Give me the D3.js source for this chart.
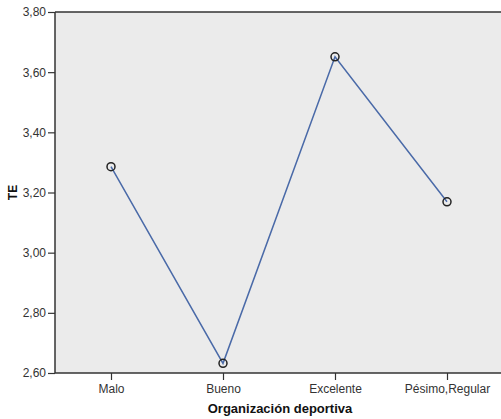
<!DOCTYPE html>
<html>
<head>
<meta charset="utf-8">
<script src="https://cdn.jsdelivr.net/npm/d3@7"></script>
<style>
  body { margin: 0; background: #fff; }
  text { font-family: "Liberation Sans", Arial, sans-serif; }
</style>
</head>
<body>
<svg id="chart"></svg>
<script>
var w = 501;
var h = 419;

// data
var categories = ["Malo", "Bueno", "Excelente", "Pésimo,Regular"];
var meanTE = [3.286, 2.632, 3.651, 3.169];
var yTicks = [2.60, 2.80, 3.00, 3.20, 3.40, 3.60, 3.80];

// plot edges (note: "top" is taken by window.top)
var padLeft = 55, padTop = 12, padBottom = 373, padRight = 503;

let svg = d3.select("#chart")
    .attr("width", w)
    .attr("height", h);

let xScale = d3.scalePoint()
    .domain(categories)
    .range([padLeft, padRight])
    .padding(0.5);

let yScale = d3.scaleLinear()
    .domain([2.6, 3.8])
    .range([padBottom, padTop]);

// plot background
svg.append("rect")
    .attr("x", padLeft)
    .attr("y", padTop)
    .attr("width", w - padLeft)
    .attr("height", padBottom - padTop)
    .attr("fill", "#ebebeb");

// top border
svg.append("line")
    .attr("x1", padLeft).attr("x2", w)
    .attr("y1", padTop).attr("y2", padTop)
    .attr("stroke", "#333")
    .attr("stroke-width", 1.5);

let fmt = d => d3.format(".2f")(d).replace(".", ",");

let yAxis = d3.axisLeft(yScale)
    .tickValues(yTicks)
    .tickFormat(fmt)
    .tickSize(7)
    .tickPadding(2);

let xAxis = d3.axisBottom(xScale)
    .tickSize(7)
    .tickPadding(4);

let gy = svg.append("g")
    .attr("transform", `translate(${padLeft},0)`)
    .call(yAxis);

let gx = svg.append("g")
    .attr("transform", `translate(0,${padBottom})`)
    .call(xAxis);

[gx, gy].forEach(g => {
    g.select(".domain").attr("stroke", "#333").attr("stroke-width", 1.5);
    g.selectAll(".tick line").attr("stroke", "#333").attr("stroke-width", 1.2);
    g.selectAll(".tick text")
        .attr("fill", "#333")
        .style("font-size", "12px")
        .style("font-family", "'Liberation Sans', Arial, sans-serif");
});
gy.select(".domain").attr("d", `M0,${padTop}V${padBottom}`);
gx.select(".domain").attr("d", `M${padLeft},0H${w}`);

// axis titles
svg.append("text")
    .attr("x", (padLeft + w) / 2 + 2)
    .attr("y", 413)
    .attr("text-anchor", "middle")
    .attr("font-weight", "bold")
    .style("font-size", "13px")
    .attr("fill", "#111")
    .text("Organización deportiva");

svg.append("text")
    .attr("transform", `translate(17, ${(padTop + padBottom) / 2}) rotate(-90)`)
    .attr("text-anchor", "middle")
    .attr("font-weight", "bold")
    .style("font-size", "12px")
    .attr("fill", "#111")
    .text("TE");

let points = categories.map((c, i) => ({ cat: c, value: meanTE[i] }));

let line = d3.line()
    .x(d => xScale(d.cat))
    .y(d => yScale(d.value));

svg.append("path")
    .datum(points)
    .attr("d", line)
    .attr("fill", "none")
    .attr("stroke", "#4a6aa8")
    .attr("stroke-width", 1.5);

svg.selectAll("circle.pt")
    .data(points)
    .enter()
    .append("circle")
    .attr("class", "pt")
    .attr("cx", d => xScale(d.cat))
    .attr("cy", d => yScale(d.value))
    .attr("r", 4)
    .attr("fill", "none")
    .attr("stroke", "#222")
    .attr("stroke-width", 1.5);
</script>
</body>
</html>
